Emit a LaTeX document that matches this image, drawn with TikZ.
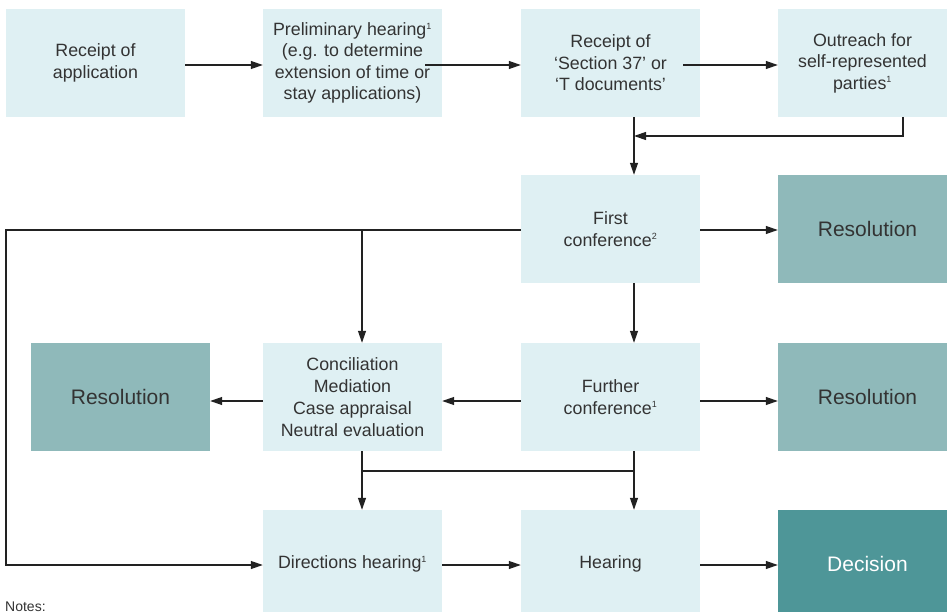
\documentclass[tikz,border=0pt]{standalone}
\usepackage{fontspec}
\setmainfont{Liberation Sans}
\usetikzlibrary{arrows.meta}
\definecolor{boxlight}{HTML}{DFF0F3}
\definecolor{boxmid}{HTML}{8FB9BA}
\definecolor{boxdark}{HTML}{4E9698}
\definecolor{txt}{HTML}{333333}
\definecolor{ln}{HTML}{222222}
\tikzset{
  stage/.style={rectangle, fill=boxlight, minimum width=179pt, minimum height=108pt,
    inner sep=0pt, align=center, text=txt, font=\fontsize{17.8}{21.5}\selectfont},
  outcome/.style={rectangle, fill=boxmid, minimum width=179pt, minimum height=108pt,
    inner sep=0pt, align=center, text=txt, font=\fontsize{21}{25}\selectfont},
  final/.style={outcome, fill=boxdark, text=white},
  conn/.style={draw=ln, line width=1.2pt},
  arr/.style={conn, -{Triangle[length=12pt,width=8pt]}},
}
\newcommand{\sups}[1]{\textsuperscript{\fontsize{9}{9}\selectfont #1}}
\begin{document}
\begin{tikzpicture}[x=1pt,y=-1pt]
\useasboundingbox (0,0) rectangle (947,612);
% row 1
\node[stage] (app) at (95.5,63) {Receipt of\\application};
\node[stage] (prelim) at (352.5,63) {Preliminary hearing\sups{1}\\(e.g. to determine\\extension of time or\\stay applications)};
\node[stage] (s37) at (610.5,63) {Receipt of\\‘Section 37’ or\\‘T documents’};
\node[stage, minimum width=169pt] (out) at (862.5,63) {Outreach for\\self-represented\\parties\sups{1}};
% row 2
\node[stage] (first) at (610.5,229) {First\\conference\sups{2}};
\node[outcome] (res1) at (867.5,229) {Resolution};
% row 3
\node[outcome] (res2) at (120.5,397) {Resolution};
\node[stage, font=\fontsize{17.8}{22}\selectfont] (adr) at (352.5,397) {Conciliation\\Mediation\\Case appraisal\\Neutral evaluation};
\node[stage] (further) at (610.5,397) {Further\\conference\sups{1}};
\node[outcome] (res3) at (867.5,397) {Resolution};
% row 4
\node[stage] (dirs) at (352.5,564) {Directions hearing\sups{1}};
\node[stage] (hear) at (610.5,564) {Hearing};
\node[final] (dec) at (867.5,564) {Decision};
% notes
\node[anchor=north west, inner sep=0pt, text=txt, font=\fontsize{14}{16}\selectfont] (notes) at (5,602) {Notes:};
% coordinates
\coordinate (pstart) at (425,65);
\coordinate (sstart) at (683,65);
\coordinate (ob) at (903,117);
\coordinate (oc) at (903,136);
\coordinate (merge) at (634,136);
\coordinate (tl) at (6,230);
\coordinate (bl) at (6,565);
\coordinate (branch) at (362,230);
\coordinate (jl) at (362,471);
\coordinate (jr) at (634,471);
% connectors
\draw[arr] ([yshift=-2pt]app.east) -- ([yshift=-2pt]prelim.west);
\draw[arr] (pstart) -- ([yshift=-2pt]s37.west);
\draw[arr] (sstart) -- ([yshift=-2pt]out.west);
\draw[arr] (ob) -- (oc) -- (merge);
\draw[arr] ([xshift=23.5pt]s37.south) -- ([xshift=23.5pt]first.north);
\draw[arr] ([yshift=-1pt]first.east) -- ([yshift=-1pt]res1.west);
\draw[arr] ([yshift=-1pt]first.west) -- (tl) -- (bl) -- ([yshift=-1pt]dirs.west);
\draw[arr] (branch) -- ([xshift=9.5pt]adr.north);
\draw[arr] ([xshift=23.5pt]first.south) -- ([xshift=23.5pt]further.north);
\draw[arr] ([yshift=-4pt]further.west) -- ([yshift=-4pt]adr.east);
\draw[arr] ([yshift=-4pt]further.east) -- ([yshift=-4pt]res3.west);
\draw[arr] ([yshift=-4pt]adr.west) -- ([yshift=-4pt]res2.east);
\draw[arr] ([xshift=9.5pt]adr.south) -- ([xshift=9.5pt]dirs.north);
\draw[conn] (jl) -- (jr);
\draw[arr] ([xshift=23.5pt]further.south) -- ([xshift=23.5pt]hear.north);
\draw[arr] ([yshift=-1pt]dirs.east) -- ([yshift=-1pt]hear.west);
\draw[arr] ([yshift=-1pt]hear.east) -- ([yshift=-1pt]dec.west);
\end{tikzpicture}
\end{document}
